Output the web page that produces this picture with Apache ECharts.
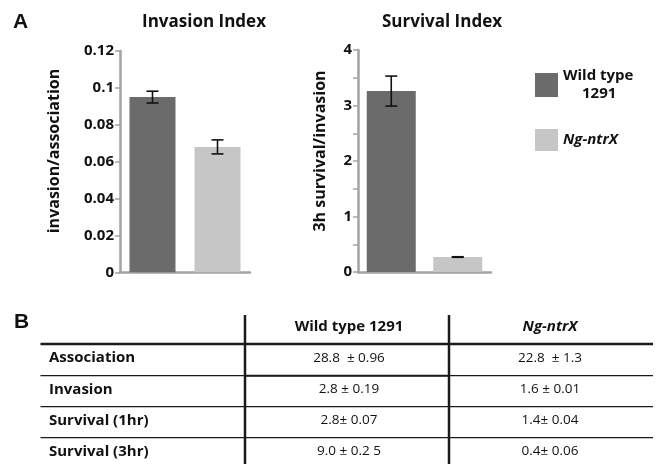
<!DOCTYPE html>
<html><head><meta charset="utf-8">
<script src="https://cdn.jsdelivr.net/npm/echarts@6/dist/echarts.min.js"></script>
<style>html,body{margin:0;padding:0;background:#fff}#c{width:665px;height:464px}</style>
</head><body><div id="c"></div>
<script>
// ---- data ----
const categories = ['Wild type 1291', 'Ng-ntrX'];
const invasionMean = [0.095, 0.068];
const invasionErr = [0.0032, 0.0038];
const survivalMean = [3.26, 0.27];
const survivalErr = [0.27, 0.005];
const invasionTicks = [0, 0.02, 0.04, 0.06, 0.08, 0.1, 0.12];
const survivalTicks = [0, 1, 2, 3, 4];
const tableHeader = ['Wild type 1291', 'Ng-ntrX'];
const tableRows = ['Association', 'Invasion', 'Survival (1hr)', 'Survival (3hr)'];
const tableWT = ['28.8  \u00b1 0.96', '2.8 \u00b1 0.19', '2.8\u00b1 0.07', '9.0 \u00b1 0.2 5'];
const tableNG = ['22.8  \u00b1 1.3', '1.6 \u00b1 0.01', '1.4\u00b1 0.04', '0.4\u00b1 0.06'];

const colors = ['#6b6b6b', '#c6c6c6'];
const FONT = '"Open Sans", "Noto Sans", sans-serif';
const axisGray = '#a3a3a3';

function yAxisCfg(gi, ticks, minorStep) {
  const step = minorStep || (ticks[1] - ticks[0]);
  return {
    type: 'value', gridIndex: gi, min: ticks[0], max: ticks[ticks.length - 1], interval: step,
    axisLine: { show: true, lineStyle: { color: axisGray, width: 2.5 } },
    axisTick: { show: true, length: 5, lineStyle: { color: axisGray, width: 1.5 } },
    splitLine: { show: false },
    axisLabel: {
      margin: 6, color: '#111', fontFamily: FONT, fontWeight: 'bold', fontSize: 15,
      formatter: v => (ticks.some(t => Math.abs(t - v) < 1e-9) ? String(+v.toFixed(4)) : '')
    }
  };
}
function xAxisCfg(gi) {
  return {
    type: 'category', gridIndex: gi, data: categories,
    axisLine: { show: true, lineStyle: { color: axisGray, width: 2.5 } },
    axisTick: { show: false }, axisLabel: { show: false }
  };
}
function barSeries(gi, mean) {
  return categories.map((name, i) => ({
    type: 'bar', name: name, xAxisIndex: gi, yAxisIndex: gi, stack: 's' + gi,
    barWidth: gi === 0 ? 46 : 49,
    itemStyle: { color: colors[i] },
    data: mean.map((v, j) => (j === i ? v : '-'))
  }));
}
function errSeries(gi, mean, err) {
  return {
    type: 'custom', xAxisIndex: gi, yAxisIndex: gi, z: 10, silent: true,
    data: mean.map((m, i) => [i, m - err[i], m + err[i]]),
    renderItem: function (params, api) {
      const lo = api.coord([api.value(0), api.value(1)]);
      const hi = api.coord([api.value(0), api.value(2)]);
      const cw = 6;
      const st = { stroke: '#111', lineWidth: 1.6 };
      return {
        type: 'group', children: [
          { type: 'line', shape: { x1: lo[0], y1: lo[1], x2: hi[0], y2: hi[1] }, style: st },
          { type: 'line', shape: { x1: lo[0] - cw, y1: lo[1], x2: lo[0] + cw, y2: lo[1] }, style: st },
          { type: 'line', shape: { x1: hi[0] - cw, y1: hi[1], x2: hi[0] + cw, y2: hi[1] }, style: st }
        ]
      };
    }
  };
}

// ---- text & table graphics ----
const g = [];
function txt(x, y, s, opt) {
  g.push({ type: 'text', x: x, y: y, style: Object.assign({
    text: s, font: 'normal 13.5px ' + FONT, fill: '#111', textAlign: 'left', textVerticalAlign: 'middle'
  }, opt || {}) });
}
function ln(x1, y1, x2, y2, w) {
  g.push({ type: 'line', shape: { x1, y1, x2, y2 }, style: { stroke: '#1a1a1a', lineWidth: w } });
}
txt(13, 22, 'A', { font: 'bold 21px "Liberation Sans", Arial, sans-serif' });
txt(14, 322, 'B', { font: 'bold 21px "Liberation Sans", Arial, sans-serif' });
txt(204, 22, 'Invasion Index', { font: 'bold 17px ' + FONT, textAlign: 'center' });
txt(442, 22, 'Survival Index', { font: 'bold 17px ' + FONT, textAlign: 'center' });
g.push({ type: 'text', x: 54, y: 151, rotation: Math.PI / 2, style: { text: 'invasion/association', font: 'bold 16px ' + FONT, fill: '#111', textAlign: 'center', textVerticalAlign: 'middle' } });
g.push({ type: 'text', x: 320, y: 151, rotation: Math.PI / 2, style: { text: '3h survival/invasion', font: 'bold 16px ' + FONT, fill: '#111', textAlign: 'center', textVerticalAlign: 'middle' } });

const rowY = [358, 389.5, 420.5, 451.5];
const col1 = 349, col2 = 550;
ln(40.5, 344, 653, 344, 2.5);
[375.7, 406.7, 437.7].forEach(y => ln(40.5, y, 653, y, 1.2));
ln(245, 375.7, 449, 375.7, 2);
ln(245, 315, 245, 464, 2.5);
ln(449, 315, 449, 464, 2.5);
txt(col1, 327, tableHeader[0], { font: 'bold 15px ' + FONT, textAlign: 'center' });
txt(col2, 327, tableHeader[1], { font: 'italic bold 15px ' + FONT, textAlign: 'center' });
tableRows.forEach((r, i) => {
  txt(49, rowY[i], r, { font: 'bold 15px ' + FONT });
  txt(col1, rowY[i], tableWT[i], { textAlign: 'center' });
  txt(col2, rowY[i], tableNG[i], { textAlign: 'center' });
});

const legendText = {
  color: '#111', fontFamily: FONT, fontWeight: 'bold', fontSize: 15, lineHeight: 18,
  rich: {
    a: { fontFamily: FONT, fontWeight: 'bold', fontSize: 15, lineHeight: 18, color: '#111' },
    b: { fontFamily: FONT, fontWeight: 'bold', fontSize: 15, lineHeight: 18, color: '#111', padding: [0, 0, 0, 19] },
    c: { fontFamily: FONT, fontWeight: 'bold', fontStyle: 'italic', fontSize: 15, lineHeight: 18, color: '#111' }
  }
};

const chart = echarts.init(document.getElementById('c'), null, { renderer: 'canvas' });
chart.setOption({
  animation: false,
  backgroundColor: '#fff',
  grid: [
    { left: 120, top: 51, width: 130, height: 221.3 },
    { left: 358, top: 50, width: 133, height: 222 }
  ],
  xAxis: [xAxisCfg(0), xAxisCfg(1)],
  yAxis: [yAxisCfg(0, invasionTicks), yAxisCfg(1, survivalTicks, 0.5)],
  legend: [
    { data: [categories[0]], left: 530, top: 62, itemWidth: 23, itemHeight: 24, itemGap: 8, selectedMode: false,
      icon: 'rect', textStyle: legendText, formatter: () => '{a|Wild type}\n{b|1291}' },
    { data: [categories[1]], left: 530, top: 124, itemWidth: 23, itemHeight: 22, itemGap: 8, selectedMode: false,
      icon: 'rect', textStyle: legendText, formatter: () => '{c|Ng-ntrX}' }
  ],
  series: [].concat(
    barSeries(0, invasionMean), [errSeries(0, invasionMean, invasionErr)],
    barSeries(1, survivalMean), [errSeries(1, survivalMean, survivalErr)]
  ),
  graphic: g
});
</script></body></html>
